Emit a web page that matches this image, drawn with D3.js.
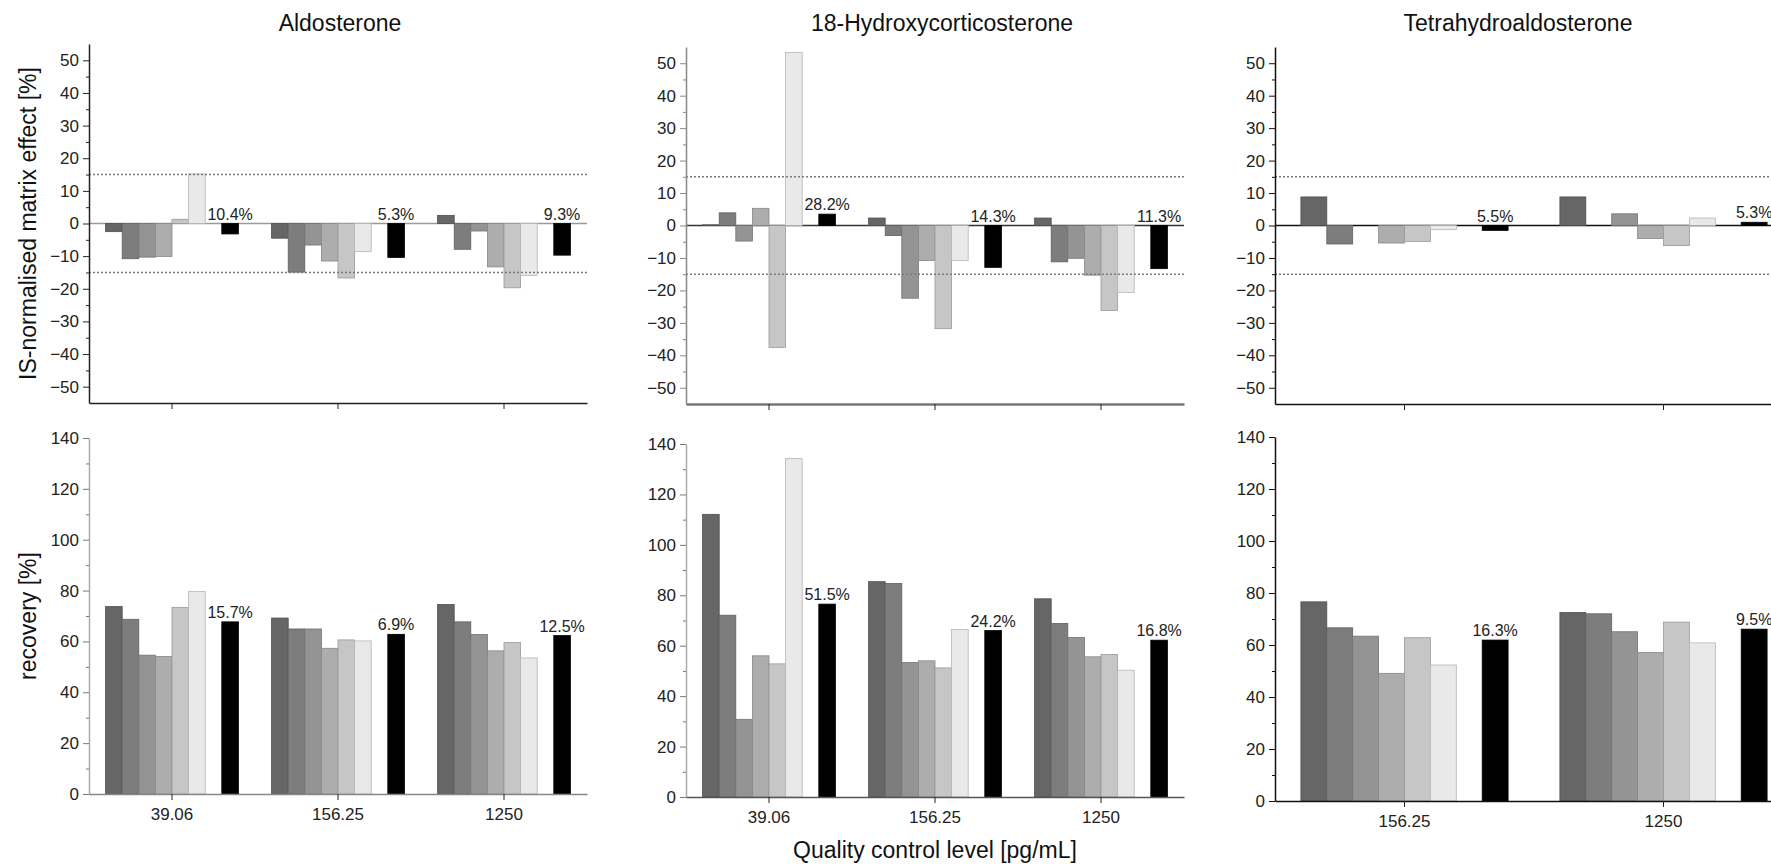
<!DOCTYPE html>
<html>
<head>
<meta charset="utf-8">
<script src="https://cdn.jsdelivr.net/npm/d3@7"></script>
<style>
  body { margin: 0; background: #fff; }
  svg { font-family: "Liberation Sans", Arial, sans-serif; }
  .axis text { font-size: 17px; fill: #222; }
</style>
</head>
<body>
<div id="chart"></div>
<script>
var width = 1771;
var height = 864;

// categories
var levels = ["39.06", "156.25", "1250"];
var thaLevels = ["156.25", "1250"];
var titles = ["Aldosterone", "18-Hydroxycorticosterone", "Tetrahydroaldosterone"];

// six single samples per level (gray bars), mean in black, CV label above
var aldoMatrix = [
    [-2.5, -10.8, -10.3, -10.1, 1.3, 15.2],
    [-4.5, -14.9, -6.6, -11.5, -16.7, -8.6],
    [2.5, -7.9, -2.3, -13.3, -19.7, -15.9]
];
var aldoMatrixMean = [-3.2, -10.4, -9.7];
var aldoMatrixCV = ["10.4%", "5.3%", "9.3%"];

var hydroMatrix = [
    [0.2, 3.9, -4.8, 5.3, -37.6, 53.3],
    [2.3, -3.1, -22.4, -10.8, -31.8, -10.8],
    [2.3, -11.2, -10.1, -15.3, -26.2, -20.6]
];
var hydroMatrixMean = [3.5, -12.9, -13.3];
var hydroMatrixCV = ["28.2%", "14.3%", "11.3%"];

var thaMatrix = [
    [8.8, -5.7, null, -5.4, -4.9, -1.3],
    [8.8, null, 3.6, -4.0, -6.2, 2.3]
];
var thaMatrixMean = [-1.5, 1.0];
var thaMatrixCV = ["5.5%", "5.3%"];

var aldoRecovery = [
    [73.7, 68.7, 54.6, 54.1, 73.4, 79.6],
    [69.2, 64.9, 64.9, 57.3, 60.6, 60.2],
    [74.5, 67.7, 62.7, 56.3, 59.6, 53.5]
];
var aldoRecoveryMean = [67.7, 62.8, 62.3];
var aldoRecoveryCV = ["15.7%", "6.9%", "12.5%"];

var hydroRecovery = [
    [112.1, 72.1, 30.8, 56.0, 52.8, 134.2],
    [85.4, 84.7, 53.3, 54.0, 51.2, 66.4],
    [78.6, 68.8, 63.3, 55.6, 56.5, 50.3]
];
var hydroRecoveryMean = [76.5, 66.0, 62.2];
var hydroRecoveryCV = ["51.5%", "24.2%", "16.8%"];

var thaRecovery = [
    [76.6, 66.6, 63.4, 49.1, 62.8, 52.3],
    [72.5, 72.0, 65.1, 57.1, 68.8, 60.8]
];
var thaRecoveryMean = [61.9, 66.1];
var thaRecoveryCV = ["16.3%", "9.5%"];

var matrixTicks = [-50, -40, -30, -20, -10, 0, 10, 20, 30, 40, 50];
var matrixMinor = [-45, -35, -25, -15, -5, 5, 15, 25, 35, 45];
var recoveryTicks = [0, 20, 40, 60, 80, 100, 120, 140];
var recoveryMinor = [10, 30, 50, 70, 90, 110, 130];
var limits = [-15, 15];

var shades = ["#666666", "#7d7d7d", "#949494", "#adadad", "#c6c6c6", "#e9e9e9"];
var meanColor = "#000000";

var svg = d3.select("#chart").append("svg")
    .attr("width", width)
    .attr("height", height);

// panel frames
var cols = [
    { x0: 89, x1: 587, title: 340 },
    { x0: 686, x1: 1184, title: 942 },
    { x0: 1275, x1: 1793, title: 1518 }
];
var topRows = [[403, 44], [404, 47], [404, 47]];
var bottomRows = [[794, 438], [797, 444], [801, 437]];

var panels = [
    { col: 0, row: topRows[0], domain: [-55, 55], cats: levels, values: aldoMatrix, mean: aldoMatrixMean, cv: aldoMatrixCV, top: true,
      zero: "#9a9a9a", yAxis: "#222", xAxis: "#222", xw: 1.5 },
    { col: 1, row: topRows[1], domain: [-55, 55], cats: levels, values: hydroMatrix, mean: hydroMatrixMean, cv: hydroMatrixCV, top: true,
      zero: "#333", yAxis: "#888", xAxis: "#777", xw: 2.5 },
    { col: 2, row: topRows[2], domain: [-55, 55], cats: thaLevels, values: thaMatrix, mean: thaMatrixMean, cv: thaMatrixCV, top: true,
      zero: "#111", yAxis: "#111", xAxis: "#111", xw: 1.5 },
    { col: 0, row: bottomRows[0], domain: [0, 140], cats: levels, values: aldoRecovery, mean: aldoRecoveryMean, cv: aldoRecoveryCV, top: false,
      yAxis: "#aaa", xAxis: "#888", xw: 1.5 },
    { col: 1, row: bottomRows[1], domain: [0, 140], cats: levels, values: hydroRecovery, mean: hydroRecoveryMean, cv: hydroRecoveryCV, top: false,
      yAxis: "#aaa", xAxis: "#555", xw: 1.5 },
    { col: 2, row: bottomRows[2], domain: [0, 140], cats: thaLevels, values: thaRecovery, mean: thaRecoveryMean, cv: thaRecoveryCV, top: false,
      yAxis: "#111", xAxis: "#111", xw: 1.5 }
];

panels.forEach(function (p) {
    var c = cols[p.col];
    var g = svg.append("g");

    var x = d3.scaleBand()
        .domain(p.cats)
        .range([c.x0, c.x1])
        .paddingInner(0.2)
        .paddingOuter(0.1);

    // 8 slots per group: 6 samples, one gap, the mean
    var slot = d3.scaleBand()
        .domain(d3.range(8))
        .range([0, x.bandwidth()]);

    var y = d3.scaleLinear()
        .domain(p.domain)
        .range(p.row);

    if (p.top) {
        g.append("line")
            .attr("x1", c.x0).attr("x2", c.x1)
            .attr("y1", y(0)).attr("y2", y(0))
            .attr("stroke", p.zero)
            .attr("stroke-width", 1.3);
    }

    // sample bars
    var bars = [];
    p.cats.forEach(function (cat, i) {
        p.values[i].forEach(function (v, j) {
            if (v !== null) bars.push({ cat: cat, k: j, v: v, fill: shades[j] });
        });
        bars.push({ cat: cat, k: 7, v: p.mean[i], fill: meanColor, label: p.cv[i] });
    });

    g.selectAll("rect.bar")
        .data(bars)
        .enter().append("rect")
        .attr("class", "bar")
        .attr("x", function (d) { return x(d.cat) + slot(d.k); })
        .attr("width", slot.bandwidth())
        .attr("y", function (d) { return y(Math.max(0, d.v)); })
        .attr("height", function (d) { return Math.abs(y(d.v) - y(0)); })
        .attr("fill", function (d) { return d.fill; })
        .attr("stroke", function (d) { return d.k === 7 ? "#000" : d3.color(d.fill).darker(0.7); })
        .attr("stroke-width", 0.8);

    g.selectAll("text.cv")
        .data(bars.filter(function (d) { return d.label; }))
        .enter().append("text")
        .attr("class", "cv")
        .attr("x", function (d) { return x(d.cat) + slot(d.k) + slot.bandwidth() / 2; })
        .attr("y", function (d) { return y(Math.max(0, d.v)) - 4; })
        .attr("text-anchor", "middle")
        .style("font-size", "16px")
        .style("fill", "#222")
        .text(function (d) { return d.label; });

    if (p.top) {
        g.selectAll("line.limit")
            .data(limits)
            .enter().append("line")
            .attr("class", "limit")
            .attr("x1", c.x0).attr("x2", c.x1)
            .attr("y1", function (d) { return y(d); })
            .attr("y2", function (d) { return y(d); })
            .attr("stroke", "#7a7a7a")
            .attr("stroke-width", 1.4)
            .attr("stroke-dasharray", "2,2");
    }

    // axes
    g.append("g")
        .attr("class", "axis")
        .attr("transform", "translate(" + c.x0 + ",0)")
        .call(d3.axisLeft(y)
            .tickValues(p.top ? matrixTicks : recoveryTicks)
            .tickSize(6)
            .tickSizeOuter(0)
            .tickPadding(4))
        .call(function (a) {
            a.select(".domain").attr("stroke", p.yAxis).attr("stroke-width", 1.5);
            a.selectAll(".tick line").attr("stroke", p.yAxis === "#aaa" ? "#777" : p.yAxis);
        });

    g.append("g")
        .attr("class", "axis")
        .attr("transform", "translate(" + c.x0 + ",0)")
        .call(d3.axisLeft(y)
            .tickValues(p.top ? matrixMinor : recoveryMinor)
            .tickSize(3)
            .tickSizeOuter(0)
            .tickFormat(""))
        .call(function (a) {
            a.select(".domain").remove();
            a.selectAll(".tick line").attr("stroke", p.yAxis === "#aaa" ? "#777" : p.yAxis);
        });

    g.append("g")
        .attr("class", "axis")
        .attr("transform", "translate(0," + p.row[0] + ")")
        .call(d3.axisBottom(x)
            .tickSize(6)
            .tickSizeOuter(0)
            .tickPadding(8)
            .tickFormat(p.top ? "" : function (d) { return d; }))
        .call(function (a) {
            a.select(".domain").attr("stroke", p.xAxis).attr("stroke-width", p.xw);
            a.selectAll(".tick line").attr("stroke", "#222");
        });

    if (p.top) {
        svg.append("text")
            .attr("x", c.title)
            .attr("y", 31)
            .attr("text-anchor", "middle")
            .style("font-size", "23px")
            .style("fill", "#111")
            .text(titles[p.col]);
    }
});

// axis titles
svg.append("text")
    .attr("transform", "translate(28," + (topRows[0][0] + topRows[0][1]) / 2 + ") rotate(-90)")
    .attr("text-anchor", "middle")
    .attr("dominant-baseline", "central")
    .style("font-size", "23px")
    .style("fill", "#111")
    .text("IS-normalised matrix effect [%]");

svg.append("text")
    .attr("transform", "translate(28," + (bottomRows[0][0] + bottomRows[0][1]) / 2 + ") rotate(-90)")
    .attr("text-anchor", "middle")
    .attr("dominant-baseline", "central")
    .style("font-size", "23px")
    .style("fill", "#111")
    .text("recovery [%]");

svg.append("text")
    .attr("x", (cols[1].x0 + cols[1].x1) / 2)
    .attr("y", 858)
    .attr("text-anchor", "middle")
    .style("font-size", "23px")
    .style("fill", "#111")
    .text("Quality control level [pg/mL]");
</script>
</body>
</html>
